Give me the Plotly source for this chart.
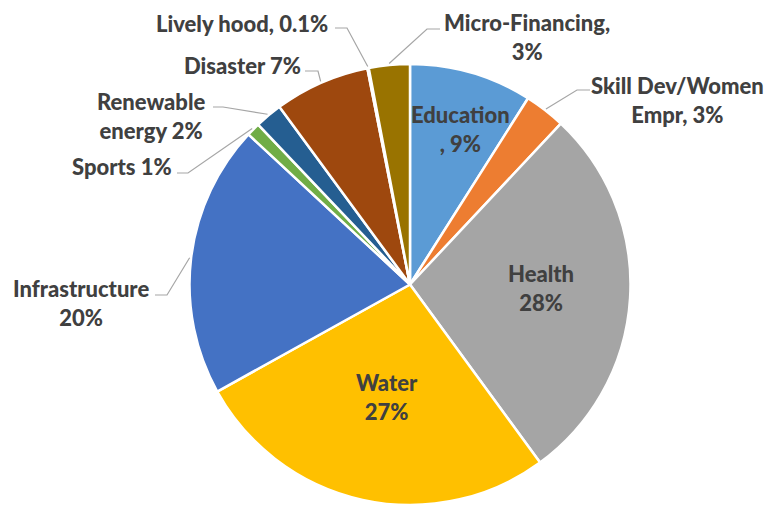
import math
import plotly.graph_objects as go

# Share of spending by sector (percent), clockwise from 12 o'clock
sectors = ["Education", "Skill Dev/Women Empr", "Health", "Water", "Infrastructure",
           "Sports", "Renewable energy", "Disaster", "Lively hood", "Micro-Financing"]
shares = [9, 3, 28, 27, 20, 1, 2, 7, 0.1, 3]
colors = ["#5B9BD5", "#ED7D31", "#A5A5A5", "#FFC000", "#4472C4",
          "#70AD47", "#255E91", "#9E480E", "#636363", "#997300"]

# Label text per slice ({} receives the percentage)
label_fmt = ["Education<br>, {}", "Skill Dev/Women<br>Empr, {}", "Health<br>{}",
             "Water<br>{}", "Infrastructure<br>{}", "Sports {}", "Renewable<br>energy {}",
             "Disaster {}", "Lively hood, {}", "Micro-Financing,<br>{}"]

W, H = 779, 505
CX, CY, R = 410, 284.5, 220.5

# label centre (px), leader-line elbow (px) or None for labels inside the slice
label_pos = [(460, 129), (677, 100), (541, 288), (387, 397), (81, 303),
             (122, 166), (151, 116), (242, 65), (242, 23), (527, 37)]
elbows = [None, [(590, 90), (577, 90)], None, None, [(155, 295), (167, 295)],
          [(177, 173), (188, 173)], [(213, 107), (223, 107)],
          [(305, 71), (318, 71)], [(335, 28), (347, 28)], [(440, 29), (427, 29)]]


def px_x(x):
    return x / W


def px_y(y):
    return 1 - y / H


fig = go.Figure(go.Pie(
    labels=sectors, values=shares, sort=False, direction="clockwise", rotation=0,
    marker=dict(colors=colors, line=dict(color="white", width=2.5)),
    textinfo="none", hoverinfo="label+percent", showlegend=False,
    domain=dict(x=[px_x(CX - R), px_x(CX + R)], y=[px_y(CY + R), px_y(CY - R)]),
))

total = sum(shares)
cum = 0.0
shapes = []
annotations = []
for name, v, fmt, pos, elb in zip(sectors, shares, label_fmt, label_pos, elbows):
    mid = (cum + v / 2) / total * 2 * math.pi
    cum += v
    annotations.append(dict(
        x=px_x(pos[0]), y=px_y(pos[1]), xref="paper", yref="paper",
        text=fmt.format(f"{v:g}%"), showarrow=False, align="center",
        xanchor="center", yanchor="middle",
        font=dict(family="Lato", size=22, color="#404040", weight=900),
    ))
    if elb:
        ax = CX + (R + 1.5) * math.sin(mid)
        ay = CY - (R + 1.5) * math.cos(mid)
        pts = elb + [(ax, ay)]
        path = "M " + " L ".join(f"{px_x(x)},{px_y(y)}" for x, y in pts)
        shapes.append(dict(type="path", xref="paper", yref="paper", path=path,
                           line=dict(color="#A6A6A6", width=1.2)))

fig.update_layout(
    width=W, height=H, margin=dict(l=0, r=0, t=0, b=0),
    paper_bgcolor="white", plot_bgcolor="white",
    shapes=shapes, annotations=annotations,
)

fig.write_html("out.html")
